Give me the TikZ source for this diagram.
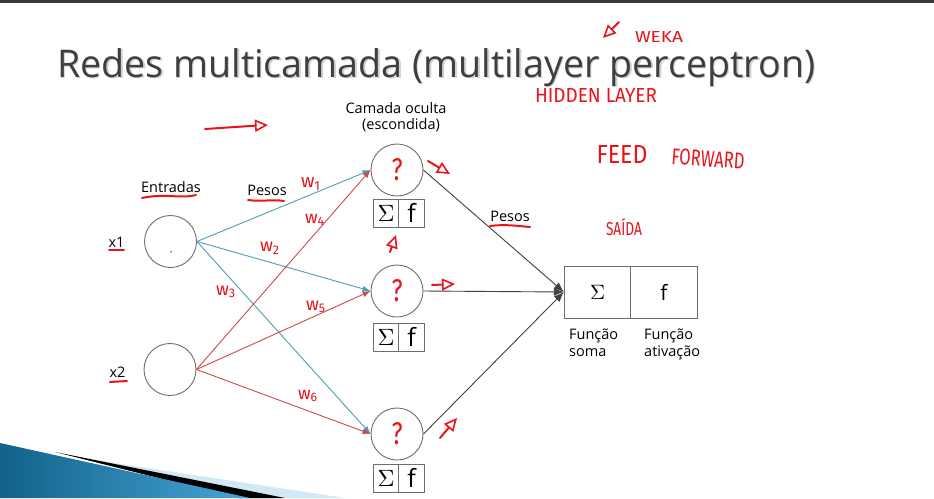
\documentclass[tikz,border=0pt]{standalone}
\usepackage{fontspec}
\setmainfont{Open Sans}
\newfontfamily\handfont{Fira Sans}
\usetikzlibrary{arrows.meta}
\definecolor{inkred}{HTML}{E8141C}
\definecolor{wblue}{HTML}{4F9DBA}
\definecolor{wred}{HTML}{CC4A4A}
\definecolor{rim}{HTML}{6E6E6E}
\definecolor{titlegray}{HTML}{3F3F3F}
\definecolor{swdark}{HTML}{12628A}
\definecolor{swlight}{HTML}{45A6D6}
% handwritten word fitted to a given width and height
\newcommand{\handtxt}[3]{\resizebox{#1pt}{#2pt}{\handfont #3}}
\newcommand{\wlab}[1]{\resizebox{20pt}{!}{\handfont w\textsubscript{#1}}}
\newcommand{\sumsign}[1]{\resizebox{#1pt}{!}{$\Sigma$}}
\begin{document}
\begin{tikzpicture}[x=1pt,y=-1pt,
  neuron/.style={circle,draw=rim,line width=0.9pt,minimum size=52pt,inner sep=0pt},
  cell/.style={draw=rim,line width=0.9pt,minimum width=25.5pt,minimum height=28pt,inner sep=0pt},
  bigcell/.style={draw=rim,line width=0.9pt,minimum width=66.5pt,minimum height=52pt,inner sep=0pt},
  lab/.style={font=\fontsize{14.5}{17}\selectfont,inner sep=0pt},
  bluew/.style={wblue,line width=0.9pt,-{Latex[length=8pt,width=6pt]}},
  redw/.style={wred,line width=0.9pt,-{Latex[length=8pt,width=6pt]}},
  outw/.style={black!75,line width=0.9pt,-{Latex[length=10pt,width=8pt]}},
  ink/.style={inkred,line width=2pt,line cap=round,line join=round},
  inkarrow/.style={ink,-{Triangle[open,length=13pt,width=12pt,line width=1.6pt]}},
  handlab/.style={inkred,inner sep=0pt}]
\useasboundingbox (0,0) rectangle (934,498);
\fill[white] (0,0) rectangle (934,498);
\fill[black!78] (0,0) rectangle (934,3);

% slide decoration in the lower left corner
\fill[swlight!25] (95,460) -- (345,498) -- (270,498) -- cycle;
\fill[black] (55,452) -- (285,498) -- (238,498) -- cycle;
\shade[left color=swdark,right color=swlight] (0,443) -- (250,498) -- (0,498) -- cycle;

% title with a soft shadow
\node[anchor=base west,inner sep=0pt,text=black!18] at (58.5,78.5)
  {\resizebox{758pt}{29pt}{Redes multicamada (multilayer perceptron)}};
\node[anchor=base west,inner sep=0pt,text=titlegray] (title) at (57,77)
  {\resizebox{758pt}{29pt}{Redes multicamada (multilayer perceptron)}};

% input layer
\node[neuron] (x1) at (170.5,241.5) {};
\node[neuron] (x2) at (170,369.5) {};
\node[lab] (x1l) at (116.5,242) {x1};
\node[lab] (x2l) at (117.5,372) {x2};
\node[lab] (entr) at (171,187) {Entradas};
\node[lab] (pes1) at (267,190) {Pesos};
\node[lab] (pes2) at (510,216) {Pesos};

% hidden layer
\node[neuron] (h1) at (397,170) {};
\node[neuron] (h2) at (397,291) {};
\node[neuron] (h3) at (397,434) {};
\node[lab,align=center] (hid) at (396,117) {Camada oculta\\[-1pt]\hspace*{10pt}(escondida)};
\foreach \n/\y in {1/213,2/337,3/478}{
  \node[cell] (s\n) at (386,\y) {\sumsign{17}};
  \node[cell,font=\fontsize{25}{25}\selectfont] (f\n) at (411.5,\y) {f};
}

% output neuron
\node[bigcell] (osum) at (597.5,292) {\sumsign{15}};
\node[bigcell,font=\fontsize{21}{21}\selectfont] (oact) at (664,292) {f};
\node[lab,anchor=north west,align=left] (fs) at (569,329) {Função\\soma};
\node[lab,anchor=north west,align=left] (fa) at (644,329) {Função\\ativação};

% weighted connections
\draw[bluew] (x1.east) -- (h1.west);
\draw[bluew] (x1.east) -- (h2.west);
\draw[bluew] (x1.east) -- (h3.west);
\draw[redw] (x2.east) -- (h1.west);
\draw[redw] (x2.east) -- (h2.west);
\draw[redw] (x2.east) -- (h3.west);
\draw[outw] (h1.east) -- (osum.west);
\draw[outw] (h2.east) -- (osum.west);
\draw[outw] (h3.east) -- (osum.west);

% handwritten notes
\node[handlab] at (171,253) {\resizebox{3pt}{3pt}{\textbullet}};
\foreach \h in {h1,h2,h3}{
  \node[handlab] at (\h) {\resizebox{11pt}{22pt}{\handfont ?}};
}
\node[handlab] (w1) at (311,184) {\wlab{1}};
\node[handlab] (w4) at (315,220) {\wlab{4}};
\node[handlab] (w2) at (270,248) {\wlab{2}};
\node[handlab] (w3) at (226,292) {\wlab{3}};
\node[handlab] (w5) at (316,307) {\wlab{5}};
\node[handlab] (w6) at (308,396) {\wlab{6}};

\draw[ink] (142,198) .. controls (165,193) and (180,199) .. (196,195);
\draw[ink] (248,200) .. controls (262,202) and (272,199) .. (284,201);
\draw[ink] (109,250) -- (124,250);
\draw[ink] (110,382) -- (127,381);
\draw[ink] (490,226) .. controls (505,224) and (518,226) .. (530,227);

\draw[inkarrow] (205,129) .. controls (230,127) .. (268,125);
\draw[inkarrow] (619,22) -- (603,38);
\draw[inkarrow] (428,161) -- (450,174);
\draw[inkarrow] (390,252) -- (396,235);
\draw[inkarrow] (432,285) -- (455,284);
\draw[inkarrow] (440,438) -- (457,418);

\node[handlab] (weka) at (659,37) {\handtxt{48}{11}{WEKA}};
\node[handlab] (hl) at (596,95) {\handtxt{122}{14}{HIDDEN LAYER}};
\node[handlab] (feed) at (622,154) {\handtxt{51}{18}{FEED}};
\node[handlab,rotate=-4] (fwd) at (708,159) {\handtxt{73}{16}{FORWARD}};
\node[handlab] (said) at (624,227) {\handtxt{36}{17}{SAÍDA}};
\end{tikzpicture}
\end{document}
